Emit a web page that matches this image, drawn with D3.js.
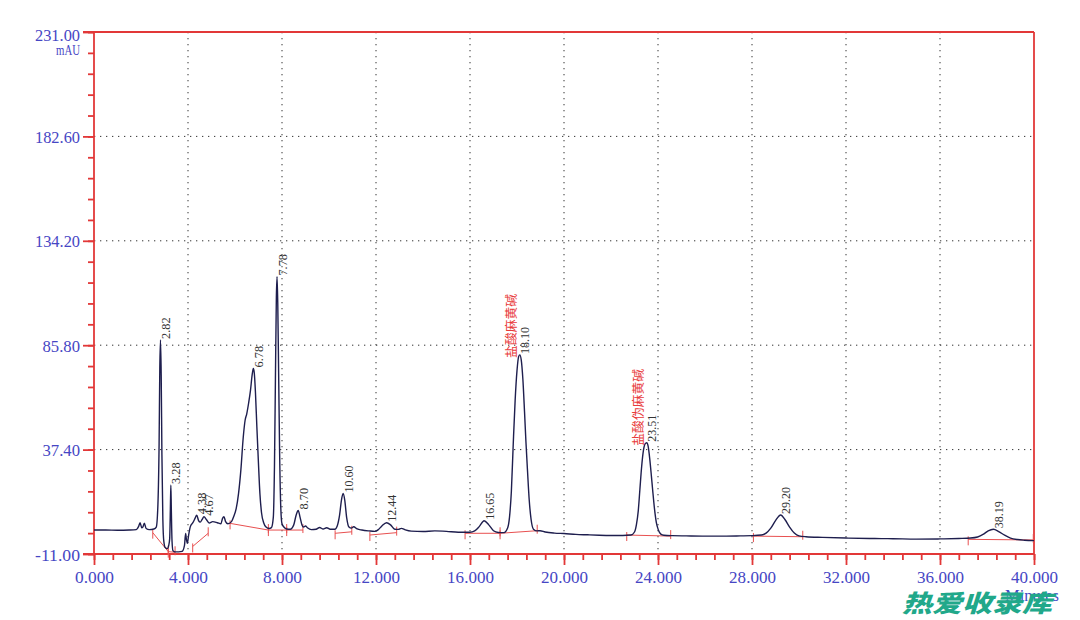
<!DOCTYPE html>
<html><head><meta charset="utf-8">
<script src="https://cdn.jsdelivr.net/npm/d3@7"></script>
<style>html,body{margin:0;padding:0;background:#fff;}</style>
</head><body>
<script>
// ---------------- DATA ----------------
const xMajor = [0,4,8,12,16,20,24,28,32,36,40];
const xMajorLabels = ["0.000","4.000","8.000","12.000","16.000","20.000","24.000","28.000","32.000","36.000","40.000"];
const yMajor = [-11,37.4,85.8,134.2,182.6,231];
const yMajorLabels = ["-11.00","37.40","85.80","134.20","182.60","231.00"];
const yUnit = "mAU";
const xUnit = "Minutes";

// chromatogram trace [time (min), signal (mAU)]
const trace = [
[0.0,0.1],[0.5,0.1],[1.0,0.0],[1.5,0.1],[1.8,0.3],[1.9,1.8],[1.96,3.5],[2.03,1.2],[2.08,1.5],[2.14,3.3],[2.22,0.8],[2.35,0.3],[2.55,0.6],
[2.65,1.5],[2.72,12],[2.77,40],[2.8,75],[2.83,88.2],[2.86,72],[2.89,35],[2.93,5],[2.97,-5],[3.03,-8],[3.12,-8.5],[3.18,-7],
[3.22,-4],[3.25,10],[3.27,21],[3.29,10],[3.32,-5],[3.36,-9.5],[3.45,-10],[3.6,-10],[3.75,-9.8],[3.85,-7],[3.9,-1.5],[3.93,-4],[3.97,-6],
[4.03,-2],[4.1,1.7],[4.2,3.4],[4.3,5.5],[4.37,7],[4.45,4.5],[4.52,3.8],[4.6,5],[4.68,6.3],[4.78,5],[4.9,3.4],[5.05,4],[5.25,3.5],[5.4,3.0],
[5.47,5.5],[5.53,6.3],[5.6,4],[5.7,3],[5.85,4],[5.95,6.5],[6.05,10],[6.15,17],[6.25,28],[6.35,43],[6.43,51],[6.5,54],[6.58,59],[6.66,65],
[6.73,72],[6.78,75],[6.82,73],[6.87,64],[6.93,48],[6.99,33],[7.06,17],[7.13,8],[7.22,3.5],[7.32,1.5],[7.45,0.8],[7.55,1.2],
[7.63,6],[7.68,30],[7.72,70],[7.76,108],[7.79,117.6],[7.82,105],[7.86,70],[7.9,35],[7.95,10],[8.0,3],[8.08,1.5],[8.2,0.6],[8.35,0.5],
[8.5,2.5],[8.6,7],[8.69,9.2],[8.77,6],[8.85,2.5],[8.92,1.5],[9.0,2.0],[9.08,1.2],[9.25,0.3],[9.45,0.5],[9.6,1.3],[9.75,0.6],[9.9,1.2],
[10.05,0.5],[10.25,0.5],[10.35,2],[10.45,7],[10.53,14],[10.6,17.1],[10.67,14],[10.75,6],[10.85,1.5],[10.95,1.0],[11.05,1.6],[11.2,0.6],
[11.4,0.1],[11.7,-0.3],[11.95,-0.5],[12.1,0.3],[12.25,2],[12.45,3.5],[12.62,2.5],[12.8,0.5],[12.95,0.4],[13.08,0.9],[13.25,0.2],
[13.5,-0.4],[14.0,-0.6],[14.5,-0.3],[15.0,-0.5],[15.5,-0.9],[16.0,-0.9],[16.2,-0.3],[16.4,1.8],[16.6,4.4],[16.8,2.5],[17.0,-0.2],
[17.2,-1.0],[17.45,-1.1],[17.6,1],[17.68,6],[17.76,18],[17.84,40],[17.92,60],[18.0,74],[18.07,80.5],[18.12,81.3],[18.18,79],[18.25,70],
[18.32,55],[18.38,41],[18.45,27],[18.52,14],[18.6,5],[18.7,0.5],[18.85,-0.3],[18.98,-0.2],[19.2,-0.8],[19.6,-1.3],[20.0,-1.5],
[20.5,-1.9],[21.0,-2.1],[21.5,-2.3],[22.0,-2.4],[22.5,-2.4],[22.85,-2.2],[23.0,-0.8],[23.08,2.5],[23.16,9],[23.23,19],[23.3,29],
[23.38,37],[23.45,40],[23.52,40.6],[23.58,39],[23.65,33],[23.72,25],[23.77,19],[23.85,10],[23.93,3.5],[24.02,0],[24.12,-1.8],
[24.25,-2.3],[24.6,-2.5],[25.2,-2.6],[26.0,-2.7],[26.8,-2.7],[27.5,-2.6],[28.0,-2.5],[28.4,-2.2],[28.6,-1.3],[28.8,1],[29.0,4.5],
[29.22,7.1],[29.4,5],[29.6,1.5],[29.8,-1.3],[30.0,-2.6],[30.3,-3.0],[31.0,-3.3],[32.0,-3.6],[33.0,-3.8],[34.0,-3.9],[35.0,-4.1],
[36.0,-4.0],[36.8,-3.8],[37.3,-3.6],[37.6,-3.1],[37.85,-1.8],[38.05,-0.3],[38.27,0.45],[38.5,-0.6],[38.75,-2.3],[39.0,-3.6],
[39.3,-4.3],[39.6,-4.6],[40.0,-4.8]
];

// peak labels: retention time text, apex time, apex height
const peakLabels = ["2.82","3.28","4.38","4.67","6.78","7.78","8.70","10.60","12.44","16.65","18.10","23.51","29.20","38.19"];
const peakTimes  = [2.83,3.27,4.37,4.68,6.78,7.79,8.69,10.6,12.45,16.6,18.12,23.52,29.22,38.27];
const peakHeights= [88.2,21,7,6.3,75,117.6,9.2,17.1,3.5,4.4,81.3,40.6,7.1,0.45];

// compound names
const compoundNames = ["盐酸麻黄碱","盐酸伪麻黄碱"];
const compoundTimes = [18.12,23.52];
const compoundHeights = [81.3,40.6];

// integration baselines [t1, v1, t2, v2]
const baselines = [
[2.5,-1.1,3.16,-9.9],[3.16,-9.9,3.45,-10.2],[4.2,-7.5,4.86,-1.4],[5.79,3.2,7.42,0.1],[7.42,0.1,8.2,0.1],[8.2,0.1,8.89,0.1],
[10.26,-1.4,10.97,-0.7],[11.74,-2.2,12.88,-1.1],[15.79,-1.4,17.28,-1.4],[17.28,-1.4,18.86,-0.2],
[22.67,-2.2,24.54,-2.7],[28.06,-2.7,30.16,-3.0],[37.2,-4.2,39.97,-4.5]
];

const watermark = "热爱收录库";

// ---------------- DRAW ----------------
const W=1080,H=620;
const red="#e23838", blue="#4646c4", traceCol="#1e1e4e";
const svg=d3.select("body").append("svg").attr("width",W).attr("height",H).style("background","#fff");
const x=d3.scaleLinear().domain([0,40]).range([94,1034]);
const y=d3.scaleLinear().domain([-11,231]).range([554,32]);
const numFont="'Liberation Serif', serif";

// grid
const grid=svg.append("g").attr("stroke","#333").attr("stroke-width",1).attr("stroke-dasharray","1.3,4.7");
grid.selectAll("line.v").data(xMajor.slice(1,-1)).join("line").attr("class","v")
  .attr("x1",d=>x(d)).attr("x2",d=>x(d)).attr("y1",y(231)).attr("y2",y(-11));
grid.selectAll("line.h").data(yMajor.slice(1,-1)).join("line").attr("class","h")
  .attr("x1",x(0)).attr("x2",x(40)).attr("y1",d=>y(d)).attr("y2",d=>y(d));

// axes
const xMinor=d3.range(0,40.001,0.8);
const yMinor=d3.range(-11,231.001,9.68);
function styleAxis(g){g.select(".domain").remove();g.selectAll(".tick line").attr("stroke",red).attr("stroke-width",1.8);}
svg.append("g").attr("transform",`translate(0,${y(-11)})`)
  .call(d3.axisBottom(x).tickValues(xMinor).tickSize(6).tickFormat("")).call(styleAxis);
const gxM=svg.append("g").attr("transform",`translate(0,${y(-11)})`)
  .call(d3.axisBottom(x).tickValues(xMajor).tickSize(11).tickFormat((d,i)=>xMajorLabels[i])).call(styleAxis);
gxM.selectAll("text").attr("y",29).attr("dy",null).attr("fill",blue)
  .style("font-family",numFont).style("font-size","17px")
  .attr("textLength",(d,i)=>xMajorLabels[i].length*7.8).attr("lengthAdjust","spacingAndGlyphs");
svg.append("g").attr("transform",`translate(${x(0)},0)`)
  .call(d3.axisLeft(y).tickValues(yMinor).tickSize(6).tickFormat("")).call(styleAxis);
const gyM=svg.append("g").attr("transform",`translate(${x(0)},0)`)
  .call(d3.axisLeft(y).tickValues(yMajor).tickSize(11).tickFormat((d,i)=>yMajorLabels[i])).call(styleAxis);
gyM.selectAll("text").attr("x",-14).attr("dy",null).attr("y",d=>d===231?8:6).attr("fill",blue)
  .style("font-family",numFont).style("font-size","17px")
  .attr("textLength",(d,i)=>yMajorLabels[i].length*7.5).attr("lengthAdjust","spacingAndGlyphs");

// frame
const frame=svg.append("g").attr("stroke",red).attr("stroke-width",1.8).attr("fill","none");
frame.append("line").attr("x1",83).attr("x2",x(40)).attr("y1",y(231)).attr("y2",y(231));
frame.append("line").attr("x1",83).attr("x2",x(40)).attr("y1",y(-11)).attr("y2",y(-11));
frame.append("line").attr("x1",x(0)).attr("x2",x(0)).attr("y1",y(231)).attr("y2",y(-11));
frame.append("line").attr("x1",x(40)).attr("x2",x(40)).attr("y1",y(231)).attr("y2",y(-11));

// unit labels
svg.append("text").attr("x",80).attr("y",55).attr("text-anchor","end").attr("fill",blue)
  .style("font-family",numFont).style("font-size","14px").attr("textLength",24).attr("lengthAdjust","spacingAndGlyphs").text(yUnit);
svg.append("text").attr("x",1059).attr("y",601).attr("text-anchor","end").attr("fill",blue)
  .style("font-family",numFont).style("font-size","16px").attr("textLength",54).attr("lengthAdjust","spacingAndGlyphs").text(xUnit);

// integration baselines
const bl=svg.append("g").attr("stroke","#e85050").attr("stroke-width",1);
bl.selectAll("line.s").data(baselines).join("line").attr("class","s")
  .attr("x1",d=>x(d[0])).attr("y1",d=>y(d[1])).attr("x2",d=>x(d[2])).attr("y2",d=>y(d[3]));
bl.selectAll("line.a").data(baselines).join("line").attr("class","a")
  .attr("x1",d=>x(d[0])).attr("x2",d=>x(d[0])).attr("y1",d=>y(d[1])-3).attr("y2",d=>y(d[1])+6);
bl.selectAll("line.b").data(baselines).join("line").attr("class","b")
  .attr("x1",d=>x(d[2])).attr("x2",d=>x(d[2])).attr("y1",d=>y(d[3])-6).attr("y2",d=>y(d[3])+3);

// trace
const line=d3.line().x(d=>x(d[0])).y(d=>y(d[1])).curve(d3.curveMonotoneX);
svg.append("path").datum(trace).attr("d",line).attr("fill","none").attr("stroke",traceCol).attr("stroke-width",1.4);

// peak labels
svg.append("g").selectAll("text").data(peakLabels).join("text")
  .attr("transform",(d,i)=>`translate(${x(peakTimes[i])+9.5},${y(peakHeights[i])-1}) rotate(-90)`)
  .attr("fill","#333").style("font-family",numFont).style("font-size","12px")
  .attr("textLength",d=>d.length*5.4).attr("lengthAdjust","spacingAndGlyphs").text(d=>d);

// compound names
svg.append("g").selectAll("text").data(compoundNames).join("text")
  .attr("transform",(d,i)=>`translate(${x(compoundTimes[i])-4},${y(compoundHeights[i])+3}) rotate(-90)`)
  .attr("fill","#e83a3a").style("font-family","'Noto Sans CJK SC', sans-serif").style("font-size","12.5px")
  .attr("textLength",d=>d.length*12.8).attr("lengthAdjust","spacingAndGlyphs").text(d=>d);

// watermark (overlaps the unit label, as in the reference)
svg.append("text").attr("x",902).attr("y",612).attr("fill","#21a88a")
  .style("font-family","'Noto Sans CJK SC', sans-serif")
  .style("font-size","24px").style("font-weight","900").style("font-style","italic")
  .attr("textLength",150).attr("lengthAdjust","spacingAndGlyphs").text(watermark);
</script>
</body></html>
